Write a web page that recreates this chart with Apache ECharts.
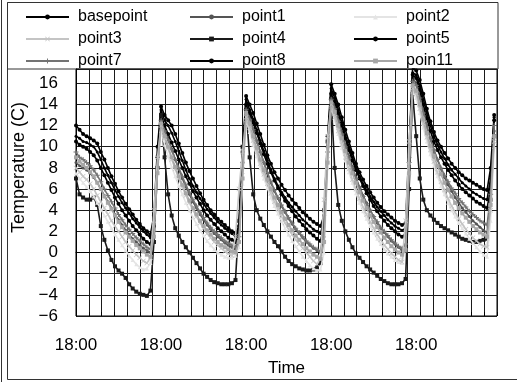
<!DOCTYPE html>
<html><head><meta charset="utf-8">
<script src="https://cdn.jsdelivr.net/npm/echarts@6/dist/echarts.min.js"></script>
<style>html,body{margin:0;padding:0;background:#fff}#c{width:517px;height:382px}</style>
</head><body><div id="c"></div><script>
// hourly samples, hour 0 = first 18:00 tick
const HOURS = Array.from({length: 119}, (_, i) => i);
const X_LABEL = '18:00';
const X_LABEL_STEP = 24;       // hours between "18:00" labels
const X_GRID_STEP = 3.6;       // hours between vertical grid lines
const X_MAX = 118.8;
const Y_MIN = -6, Y_MAX = 17.35, Y_STEP = 2, Y_LAST_LABEL = 16;

const basepoint = [10.5,10.2,10,9.8,9.5,9.2,8.7,8,7.3,6.6,5.9,5.2,4.6,4,3.5,3,2.5,2.1,1.7,1.3,1,0.8,2.5,9,13,
 12,11.2,10.4,9.6,8.8,8,7.2,6.5,5.8,5.2,4.6,4,3.5,3.1,2.7,2.3,2,1.7,1.4,1.2,1,2,8.5,14,
 13.2,12.3,11.3,10.3,9.3,8.4,7.6,6.8,6.1,5.5,4.9,4.4,3.9,3.4,3,2.6,2.2,1.9,1.6,1.3,1.1,2.5,10,15,
 14.3,13.2,12,10.8,9.7,8.7,7.8,7,6.3,5.6,5,4.4,3.9,3.4,3,2.6,2.3,2,1.7,1.5,1.7,9,16.8,
 16.5,15.4,14,12.7,11.5,10.5,9.7,9,8.4,7.8,7.3,6.8,6.4,6,5.7,5.4,5.1,4.8,4.6,4.4,4.2,6,12.5];
const point1 = [8.5,8.2,8,7.8,7.5,7.1,6.6,6,5.4,4.8,4.2,3.6,3.1,2.6,2.1,1.7,1.3,1,0.7,0.4,0.2,0,2.5,8.5,12.8,
 11.8,10.8,9.8,8.8,7.9,7,6.2,5.5,4.8,4.2,3.6,3.1,2.6,2.2,1.8,1.5,1.2,0.9,0.7,0.5,0.3,1,7.5,13.8,
 12.8,11.7,10.6,9.5,8.5,7.5,6.6,5.8,5.1,4.4,3.8,3.2,2.7,2.2,1.8,1.4,1,0.7,0.4,0.2,0,1.5,9,14.8,
 13.9,12.7,11.4,10.2,9.1,8.1,7.1,6.2,5.4,4.7,4,3.4,2.8,2.3,1.9,1.5,1.1,0.8,0.5,0.2,0.6,8,16.5,
 16,14.8,13.4,12,10.8,9.7,8.8,7.9,7.1,6.4,5.8,5.2,4.7,4.2,3.8,3.4,3,2.7,2.4,2.1,1.9,5,11.5];
const point2 = [7.5,7,6.6,6.2,5.8,5.3,4.7,4.1,3.5,2.9,2.3,1.7,1.2,0.7,0.2,-0.3,-0.7,-1.1,-1.4,-1.6,-1.5,-1,3,8,11.5,
 10.2,9.1,8.1,7.2,6.3,5.5,4.7,4,3.3,2.7,2.1,1.6,1.1,0.7,0.3,0,-0.2,-0.4,-0.5,-0.5,-0.3,0.5,6.5,12.5,
 11.4,10.2,9.1,8,7,6.1,5.2,4.4,3.7,3,2.3,1.7,1.1,0.6,0.1,-0.4,-0.8,-1.2,-1.5,-1.7,-1.6,0,8,13.8,
 12.5,11.2,9.9,8.7,7.6,6.6,5.6,4.7,3.9,3.2,2.5,1.9,1.3,0.8,0.3,-0.1,-0.4,-0.7,-0.9,-1,0.5,8.5,15.2,
 14.6,13.2,11.8,10.5,9.3,8.2,7.2,6.3,5.5,4.7,4,3.4,2.8,2.3,1.8,1.3,0.9,0.5,0.1,-0.2,-0.4,3,10];
const point3 = [8,7.6,7.2,6.9,6.5,6,5.4,4.8,4.2,3.6,3,2.5,2,1.5,1,0.6,0.2,-0.2,-0.5,-0.8,-1,-0.5,4,9,12,
 10.8,9.8,8.8,7.9,7,6.2,5.4,4.7,4,3.4,2.8,2.3,1.8,1.4,1,0.7,0.4,0.1,-0.1,-0.3,1.5,6,9.5,12.8,
 11.8,10.6,9.5,8.4,7.4,6.5,5.6,4.8,4.1,3.4,2.8,2.2,1.7,1.2,0.8,0.4,0,-0.4,-0.8,-1.1,-0.5,5,11,14,
 12.8,11.5,10.2,9,7.9,6.9,6,5.1,4.3,3.6,2.9,2.3,1.7,1.2,0.7,0.3,-0.1,-0.4,-0.7,-0.9,3,10.5,15.5,
 15,13.6,12.2,10.9,9.7,8.6,7.6,6.7,5.9,5.1,4.4,3.8,3.2,2.7,2.2,1.8,1.4,1.1,0.8,0.6,0.5,4,10.5];
const point4 = [7,5.5,5.2,5,5,5.2,4.5,2.5,1.2,0.2,-0.7,-1.3,-1.7,-2,-2.4,-3,-3.4,-3.7,-3.9,-4,-4.1,-3.6,1,8,13,
 9,5.5,3.5,2.3,1.6,1,0.5,0,-0.5,-1,-1.5,-2,-2.3,-2.6,-2.8,-2.9,-3,-3,-3,-2.9,-2.6,3,10,13.5,
 9,5.5,4,3.2,2.6,2,1.5,1,0.6,0.1,-0.4,-0.8,-1.1,-1.3,-1.5,-1.6,-1.7,-1.7,-1.6,-1.4,-1,4,10.5,14.5,
 8,4.5,3,2,1.2,0.5,-0.1,-0.5,-0.9,-1.3,-1.6,-1.9,-2.2,-2.5,-2.7,-2.9,-3,-3,-3,-2.9,-2.5,6,15,
 11,7,5,4,3.5,3.1,2.8,2.5,2.3,2.1,1.9,1.7,1.5,1.3,1.2,1.1,1,1,1.1,1.2,1.3,5,11];
const point5 = [11,10.8,10.5,10.4,10.2,10,9.5,8.8,8,7.3,6.6,5.9,5.3,4.7,4.2,3.7,3.2,2.8,2.4,2,1.7,1.4,3,9,13.5,
 12.5,12,11.3,10.5,9.6,8.7,7.8,7,6.3,5.7,5.1,4.6,4.1,3.7,3.3,2.9,2.6,2.3,2,1.8,1.5,2.2,9,14.5,
 13.5,12.6,11.6,10.6,9.6,8.7,7.8,7,6.3,5.7,5.2,4.7,4.3,3.9,3.5,3.1,2.8,2.5,2.2,2,1.8,3,10.5,15.5,
 14.6,13.5,12.3,11.1,10,9,8,7.2,6.5,5.9,5.3,4.8,4.3,3.9,3.5,3.1,2.8,2.5,2.3,2.1,2.3,9.5,17,
 16.8,15.8,14.5,13.2,12,11,10.2,9.5,8.9,8.3,7.8,7.4,7,6.6,6.3,6,5.7,5.5,5.3,5.1,5,7,12.8];
const point7 = [9.5,9,8.8,8.5,8.2,7.8,7.3,6.7,6,5.4,4.8,4.2,3.6,3.1,2.6,2.2,1.8,1.4,1.1,0.8,0.5,0.3,2,8,12.5,
 11.5,10.6,9.7,8.8,8,7.2,6.4,5.7,5,4.4,3.8,3.3,2.8,2.4,2,1.7,1.4,1.1,0.9,0.7,0.5,1.5,8,13.5,
 12.6,11.6,10.5,9.5,8.5,7.6,6.7,5.9,5.2,4.5,3.9,3.3,2.8,2.3,1.9,1.5,1.1,0.8,0.5,0.3,0.1,2,9.5,14.5,
 13.6,12.4,11.2,10,8.9,7.9,7,6.1,5.3,4.6,4,3.4,2.9,2.4,2,1.6,1.2,0.9,0.6,0.4,0.8,8.5,16.2,
 15.8,14.6,13.2,11.9,10.7,9.7,8.8,8,7.3,6.7,6.1,5.6,5.1,4.7,4.3,3.9,3.6,3.3,3,2.8,2.6,5.5,12];
const point8 = [12,11.6,11.2,11,10.8,10.6,10.3,9.5,8.8,8,7.2,6.5,5.8,5.2,4.6,4.1,3.6,3.1,2.7,2.3,2,1.7,3.5,10,13.8,
 13,12.5,12,11.2,10.3,9.4,8.5,7.7,7,6.3,5.6,5,4.5,4,3.6,3.2,2.9,2.6,2.3,2,1.8,2.5,9.5,14.8,
 14,13.2,12.2,11.2,10.2,9.2,8.4,7.6,7,6.4,5.9,5.4,5,4.6,4.2,3.8,3.5,3.2,2.9,2.7,2.5,3.5,11,15.9,
 15,14,12.8,11.6,10.5,9.4,8.4,7.6,6.9,6.3,5.7,5.2,4.7,4.3,3.9,3.6,3.3,3,2.8,2.6,2.8,10,17.5,
 17.2,16.3,15,13.6,12.4,11.4,10.6,10,9.4,8.9,8.4,8,7.6,7.3,7,6.8,6.6,6.4,6.2,6,5.9,8,13];
const poin11 = [9,8.6,8.3,8,7.6,7.2,6.6,6,5.3,4.7,4.1,3.5,2.9,2.4,1.9,1.5,1.1,0.7,0.4,0.1,-0.2,-0.4,1.5,7.5,12.2,
 11,10,9,8.1,7.2,6.4,5.6,4.9,4.2,3.6,3,2.5,2.1,1.7,1.3,1,0.7,0.5,0.3,0.1,0,1,7,13.2,
 12.2,11,9.9,8.8,7.8,6.9,6,5.2,4.5,3.8,3.2,2.6,2.1,1.6,1.2,0.8,0.4,0.1,-0.2,-0.4,-0.6,1,8.5,14.2,
 13.3,12,10.8,9.6,8.5,7.5,6.6,5.7,4.9,4.2,3.5,2.9,2.4,1.9,1.4,1,0.6,0.3,0,-0.2,0.2,7.5,15.8,
 15.3,14,12.6,11.3,10.1,9.1,8.2,7.4,6.6,5.9,5.3,4.7,4.2,3.7,3.3,2.9,2.5,2.2,1.9,1.7,1.5,4.5,11];

const SERIES_NAMES = ['basepoint','point1','point2','point3','point4','point5','point7','point8','poin11'];
const SERIES_VALUES = [basepoint, point1, point2, point3, point4, point5, point7, point8, poin11];

const X_PATH = 'path://M0,1L1,0L5,4L9,0L10,1L6,5L10,9L9,10L5,6L1,10L0,9L4,5Z';
const PLUS_PATH = 'path://M4,0H6V4H10V6H6V10H4V6H0V4H4Z';
const STYLE = {
  basepoint: {c:'#000000', s:'circle', z:4, size:4},
  point1:    {c:'#555555', s:'circle', z:3, size:3},
  point2:    {c:'#e4e4e4', s:'triangle', z:5, size:4},
  point3:    {c:'#c4c4c4', s:X_PATH, z:6, size:5},
  point4:    {c:'#1a1a1a', s:'rect', z:4, size:4},
  point5:    {c:'#000000', s:'circle', z:4, size:3},
  point7:    {c:'#737373', s:PLUS_PATH, z:5, size:5},
  point8:    {c:'#000000', s:'circle', z:4, size:4},
  poin11:    {c:'#a6a6a6', s:'rect', z:6, size:4}
};

const FONT = 'Liberation Sans';
const legendCommon = {orient:'vertical', top:9, padding:0, itemWidth:43, itemHeight:6, itemGap:6,
  textStyle:{fontSize:16, color:'#000', fontFamily:FONT, padding:[0,0,0,4]}};

const option = {
  animation:false,
  textStyle:{fontFamily:FONT},
  graphic:[
    {type:'line', shape:{x1:1.5,y1:0,x2:1.5,y2:382}, style:{stroke:'#333',lineWidth:1}},
    {type:'line', shape:{x1:7.5,y1:2.5,x2:7.5,y2:379.5}, style:{stroke:'#333',lineWidth:1}},
    {type:'line', shape:{x1:7.5,y1:379.5,x2:517,y2:379.5}, style:{stroke:'#333',lineWidth:1}},
    {type:'rect', shape:{x:7.5,y:2.5,width:490.5,height:66.5}, style:{fill:null,stroke:'#333',lineWidth:1}}
  ],
  legend:[
    Object.assign({left:25, data:['basepoint','point3','point7']}, legendCommon),
    Object.assign({left:189, data:['point1','point4','point8']}, legendCommon),
    Object.assign({left:353, data:['point2','point5','poin11']}, legendCommon)
  ],
  grid:{left:76, right:20, top:69, bottom:66, show:true, borderColor:'#000', borderWidth:1},
  xAxis:[
    {type:'value', min:0, max:X_MAX, interval:X_LABEL_STEP, position:'bottom',
     axisLine:{show:true, lineStyle:{color:'#000'}}, axisTick:{show:false}, splitLine:{show:false},
     axisLabel:{formatter:v => (Math.abs(v % X_LABEL_STEP) < 1e-6 ? X_LABEL : ''), fontSize:17, color:'#000', margin:21, showMaxLabel:false},
     name:'Time', nameLocation:'middle', nameGap:44, nameTextStyle:{fontSize:17, color:'#000'}},
    {type:'value', min:0, max:X_MAX, interval:X_GRID_STEP, position:'bottom',
     axisLine:{show:false}, axisLabel:{show:false},
     axisTick:{show:true, inside:true, length:4, lineStyle:{color:'#000'}},
     splitLine:{show:true, lineStyle:{color:'#1a1a1a', width:1}}}
  ],
  yAxis:{type:'value', min:Y_MIN, max:Y_MAX, interval:Y_STEP,
    axisLine:{show:true, lineStyle:{color:'#000'}}, axisTick:{show:false},
    splitLine:{show:true, lineStyle:{color:'#1a1a1a', width:1}},
    axisLabel:{formatter:v => (v > Y_LAST_LABEL + 0.5 ? '' : String(v).replace('-', '\u2212')), fontSize:17, color:'#000', margin:18, padding:[4,0,0,0]},
    name:'Temperature (C)', nameLocation:'middle', nameRotate:90, nameGap:45,
    nameTextStyle:{fontSize:18, color:'#000', padding:[0,0,0,50]}},
  series: SERIES_NAMES.map((n, i) => ({
    name:n, type:'line', xAxisIndex:0, yAxisIndex:0,
    data: HOURS.map((h, j) => [h, SERIES_VALUES[i][j]]),
    symbol: STYLE[n].s, symbolSize: STYLE[n].size, showSymbol:true, z: STYLE[n].z,
    lineStyle:{color:STYLE[n].c, width:1.6},
    itemStyle:{color:STYLE[n].c, borderWidth:0},
    emphasis:{disabled:true}
  }))
};
const chart = echarts.init(document.getElementById('c'), null, {renderer:'canvas'});
chart.setOption(option);
</script></body></html>
